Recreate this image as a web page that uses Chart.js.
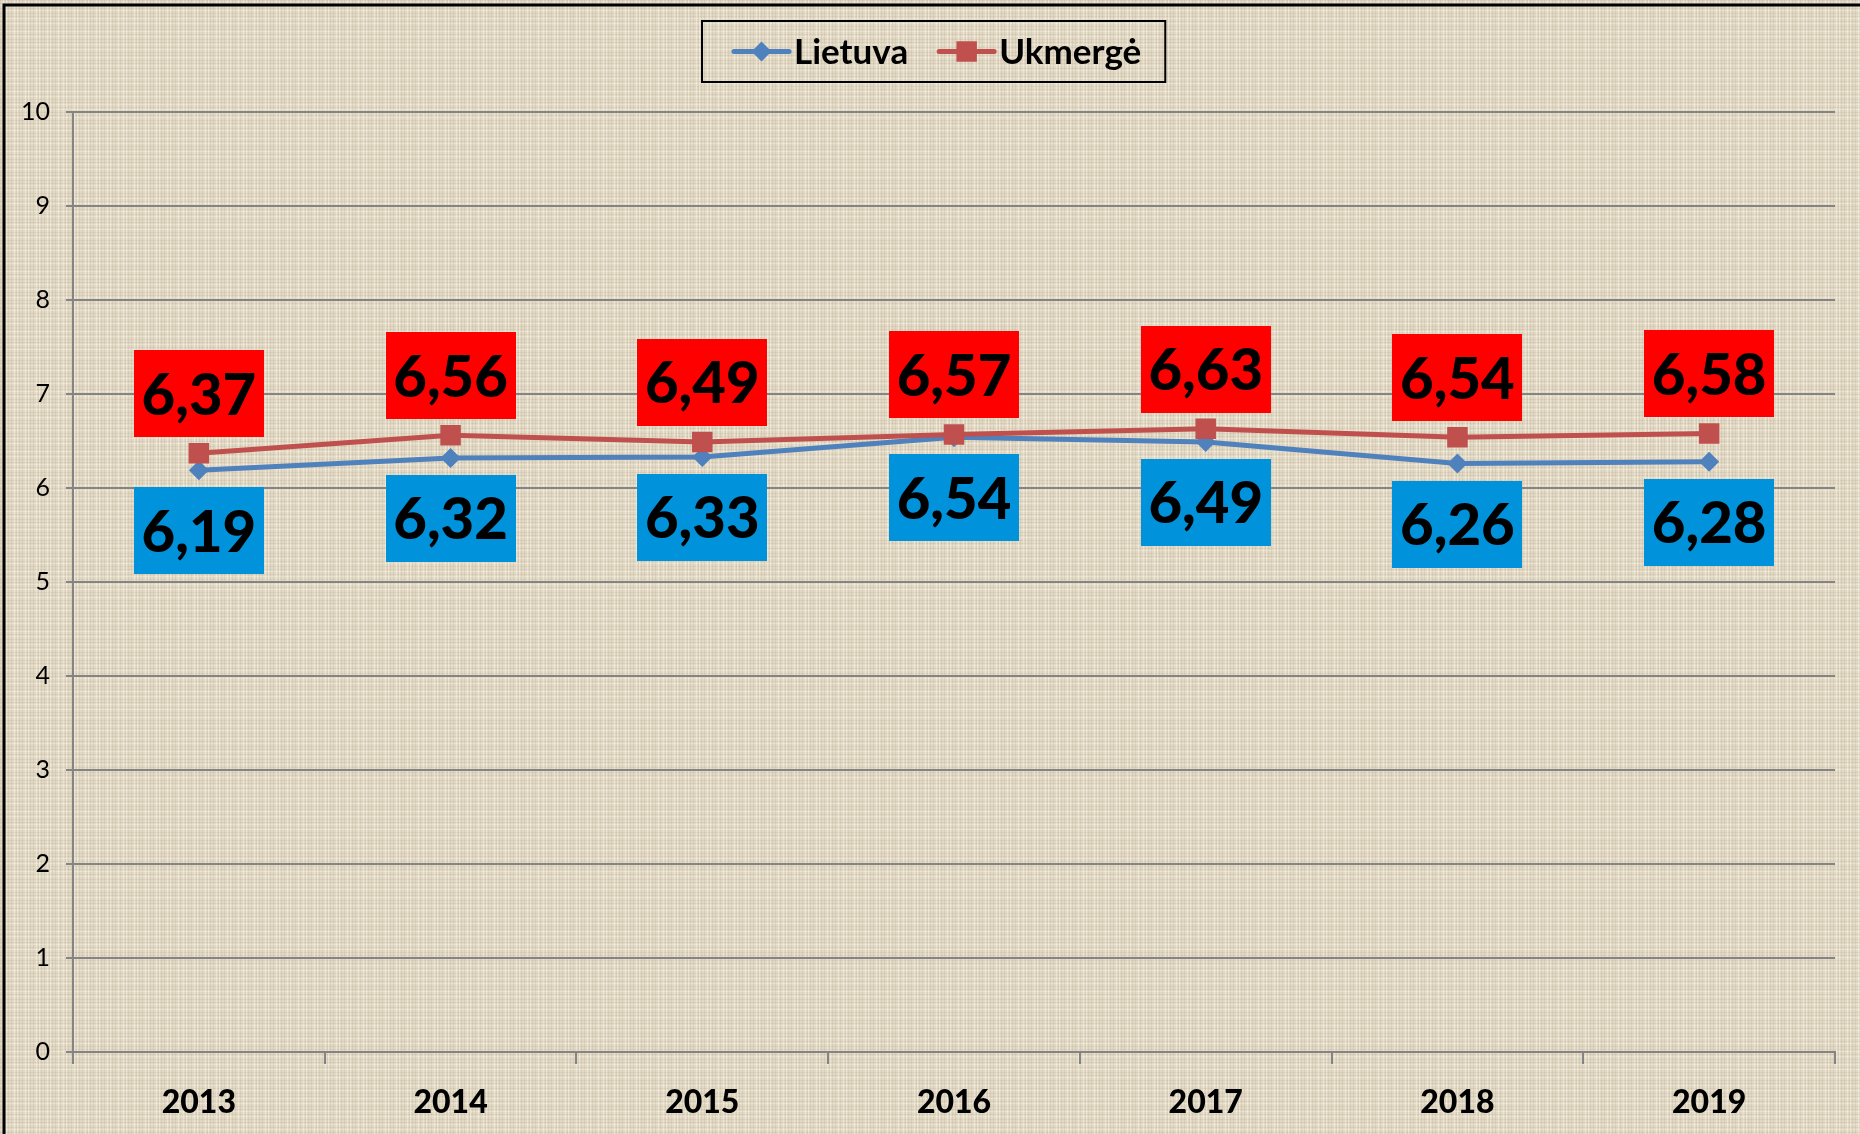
<!DOCTYPE html>
<html>
<head>
<meta charset="utf-8">
<script src="https://cdn.jsdelivr.net/npm/chart.js@4.4.0/dist/chart.umd.min.js"></script>
<style>
html,body{margin:0;padding:0;background:#e3d9c5;}
#wrap{width:1860px;height:1134px;position:relative;}
canvas{display:block;}
</style>
</head>
<body>
<div id="wrap"><canvas id="c" width="1860" height="1134"></canvas></div>
<script>
// ---- data ----
const categories = ['2013', '2014', '2015', '2016', '2017', '2018', '2019'];
const lietuvaValues = [6.19, 6.32, 6.33, 6.54, 6.49, 6.26, 6.28];
const ukmergeValues = [6.37, 6.56, 6.49, 6.57, 6.63, 6.54, 6.58];
const seriesNames = ['Lietuva', 'Ukmergė'];
const yMin = 0, yMax = 10, yStep = 1;

// ---- styles ----
const lineColors = ['#4F81BD', '#C0504D'];
const labelBoxColors = ['#0092DA', '#FF0000'];
const pointStyles = ['rectRot', 'rect'];
const pointRadii = [10, 14.5];
const FONT = 'Lato, "Open Sans", "DejaVu Sans", sans-serif';

// linen-like background pattern (regular, deterministic)
function makePattern(ctx) {
  const t = document.createElement('canvas');
  t.width = 60; t.height = 60;
  const g = t.getContext('2d');
  g.fillStyle = 'rgb(226,217,197)';
  g.fillRect(0, 0, 60, 60);
  for (let i = 0; i < 60; i++) {
    const k = (i * 7) % 11;
    if (k < 3) { g.fillStyle = 'rgba(140,120,90,0.12)'; g.fillRect(i, 0, 1, 60); }
    else if (k > 8) { g.fillStyle = 'rgba(255,252,240,0.35)'; g.fillRect(i, 0, 1, 60); }
    const m = (i * 5) % 13;
    if (m < 3) { g.fillStyle = 'rgba(140,120,90,0.10)'; g.fillRect(0, i, 60, 1); }
    else if (m > 10) { g.fillStyle = 'rgba(255,252,240,0.30)'; g.fillRect(0, i, 60, 1); }
  }
  return ctx.createPattern(t, 'repeat');
}

const backgroundPlugin = {
  id: 'bg',
  beforeDraw(chart) {
    const ctx = chart.ctx;
    ctx.save();
    ctx.fillStyle = makePattern(ctx);
    ctx.fillRect(0, 0, chart.width, chart.height);
    ctx.strokeStyle = '#000';
    ctx.lineWidth = 3;
    ctx.beginPath();
    ctx.moveTo(4, chart.height);
    ctx.lineTo(4, 5);
    ctx.lineTo(chart.width, 5);
    ctx.stroke();
    ctx.restore();
  }
};

function formatValue(v) { return v.toFixed(2).replace('.', ','); }

const dataLabelPlugin = {
  id: 'boxLabels',
  afterDatasetsDraw(chart) {
    const ctx = chart.ctx;
    ctx.save();
    ctx.font = '900 58px ' + FONT;
    ctx.textAlign = 'center';
    ctx.textBaseline = 'alphabetic';
    const capH = ctx.measureText('6').actualBoundingBoxAscent;
    const bw = 130, bh = 87;
    chart.data.datasets.forEach((ds, di) => {
      const meta = chart.getDatasetMeta(di);
      meta.data.forEach((pt, i) => {
        const above = di === 1;
        const top = above ? pt.y - 16 - bh : pt.y + 17;
        ctx.fillStyle = labelBoxColors[di];
        ctx.fillRect(Math.round(pt.x - bw / 2), Math.round(top), bw, bh);
        ctx.fillStyle = '#000';
        ctx.fillText(formatValue(ds.data[i]), pt.x, top + bh / 2 + capH / 2);
      });
    });
    ctx.restore();
  }
};

function drawMarker(ctx, style, r, x, y, color) {
  ctx.save();
  ctx.fillStyle = color;
  ctx.beginPath();
  if (style === 'rect') {
    const s = Math.SQRT1_2 * r;
    ctx.rect(x - s, y - s, 2 * s, 2 * s);
  } else {
    ctx.moveTo(x - r, y); ctx.lineTo(x, y - r); ctx.lineTo(x + r, y); ctx.lineTo(x, y + r); ctx.closePath();
  }
  ctx.fill();
  ctx.restore();
}

const legendPlugin = {
  id: 'boxLegend',
  afterDraw(chart) {
    const ctx = chart.ctx;
    ctx.save();
    ctx.font = 'bold 35px ' + FONT;
    const sampleW = 55, textGap = 5, itemGap = 31, padL = 32, padR = 24;
    const widths = chart.data.datasets.map(ds => ctx.measureText(ds.label).width);
    const total = padL + padR + widths.reduce((a, w) => a + sampleW + textGap + w, 0) + itemGap * (widths.length - 1);
    const bx = Math.round(chart.width / 2 + 4 - total / 2);
    const by = 21, bh = 61;
    ctx.strokeStyle = '#000';
    ctx.lineWidth = 2;
    ctx.strokeRect(bx, by, total, bh);
    const cy = by + bh / 2;
    let x = bx + padL;
    chart.data.datasets.forEach((ds, di) => {
      ctx.strokeStyle = lineColors[di];
      ctx.lineWidth = 5;
      ctx.lineCap = 'round';
      ctx.beginPath();
      ctx.moveTo(x, cy); ctx.lineTo(x + sampleW, cy);
      ctx.stroke();
      drawMarker(ctx, pointStyles[di], pointRadii[di], x + sampleW / 2, cy, lineColors[di]);
      x += sampleW + textGap;
      ctx.fillStyle = '#000';
      ctx.textAlign = 'left';
      ctx.textBaseline = 'middle';
      ctx.fillText(ds.label, x, cy + 1);
      x += widths[di] + itemGap;
    });
    ctx.restore();
  }
};

const seriesValues = [lietuvaValues, ukmergeValues];

new Chart(document.getElementById('c'), {
  type: 'line',
  data: {
    labels: categories,
    datasets: seriesValues.map((vals, i) => ({
      label: seriesNames[i],
      data: vals,
      borderColor: lineColors[i],
      backgroundColor: lineColors[i],
      borderWidth: 5,
      pointStyle: pointStyles[i],
      pointRadius: pointRadii[i],
      pointBorderWidth: 0,
      pointBackgroundColor: lineColors[i],
      tension: 0,
      fill: false,
      order: i === 1 ? 0 : 1
    }))
  },
  options: {
    responsive: false,
    animation: false,
    devicePixelRatio: 1,
    layout: { padding: { top: 112, right: 25, left: 0, bottom: 0 } },
    plugins: { legend: { display: false }, tooltip: { enabled: false } },
    scales: {
      x: {
        offset: true,
        grid: { offset: true, drawOnChartArea: false, color: '#848484', lineWidth: 2, tickLength: 12 },
        border: { color: '#848484', width: 2 },
        ticks: { font: { family: FONT, weight: '900', size: 32 }, color: '#000', padding: 19, maxRotation: 0 },
        afterFit(s) { s.height = 82; }
      },
      y: {
        min: yMin, max: yMax,
        ticks: { stepSize: yStep, font: { family: FONT, size: 25 }, color: '#000', padding: 16 },
        grid: { color: '#848484', lineWidth: 2, tickLength: 7 },
        border: { color: '#848484', width: 2 },
        afterFit(s) { s.width = 73; }
      }
    }
  },
  plugins: [backgroundPlugin, dataLabelPlugin, legendPlugin]
});
</script>
</body>
</html>
